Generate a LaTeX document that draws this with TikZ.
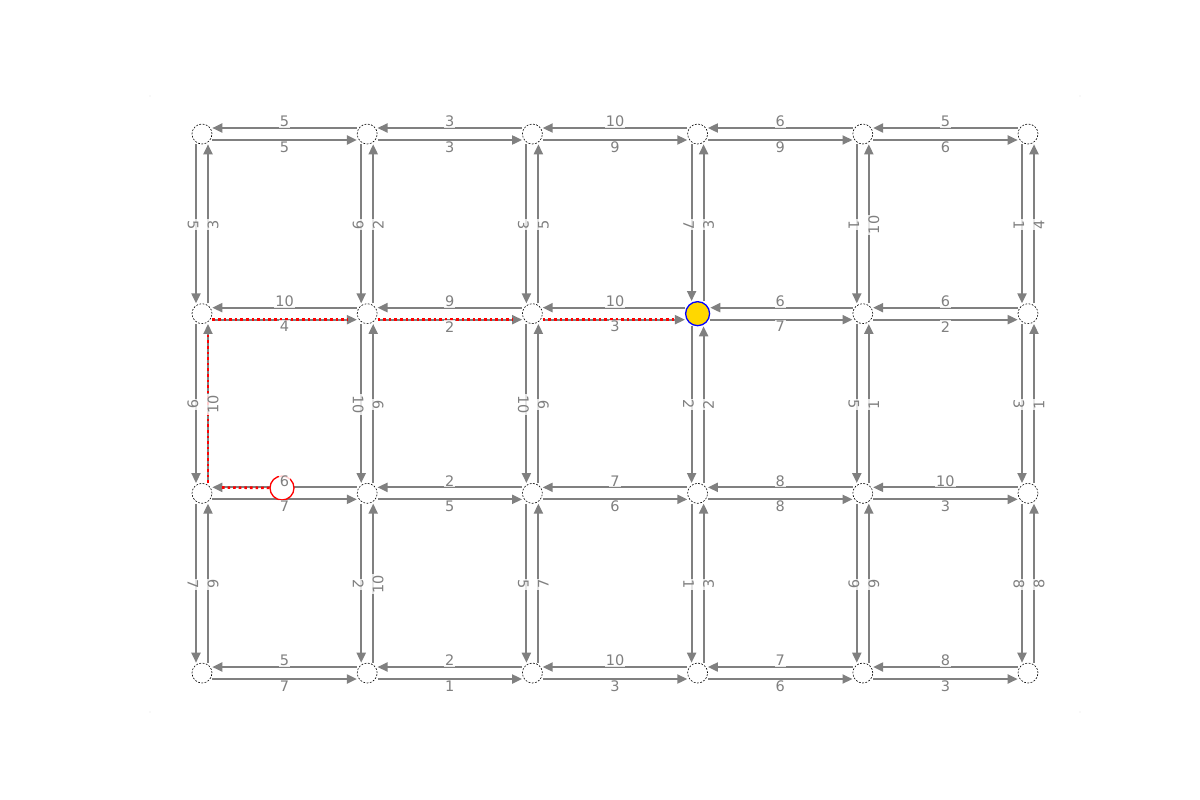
\documentclass[tikz,border=0pt]{standalone}
\usepackage{fontspec}
\newfontfamily\lblfont{DejaVu Sans}
\usetikzlibrary{arrows.meta,calc}
\definecolor{goldc}{HTML}{FFD700}
\pgfdeclarelayer{paper}
\pgfdeclarelayer{edges}
\pgfdeclarelayer{marks}
\pgfsetlayers{paper,edges,marks,main}
\begin{document}
\begin{tikzpicture}[x=1pt,y=-1pt,
 vtx/.style={circle, draw=black, line width=0.6pt, dash pattern=on 1.8pt off 1.5pt, fill=white, minimum size=20pt, inner sep=0pt},
 goal/.style={circle, draw=blue, line width=1.3pt, fill=goldc, minimum size=24pt, inner sep=0pt},
 agentc/.style={circle, draw=red, line width=1.3pt, fill=white, minimum size=24pt, inner sep=0pt},
 edgeline/.style={draw=gray, line width=2pt, -{Triangle[length=10pt,width=9pt]}},
 redpath/.style={draw=red, line width=2.6pt, dash pattern=on 2.6pt off 3pt},
 lbl/.style={font=\lblfont\fontsize{14.5}{16}\selectfont, text=gray, fill=white, fill opacity=0.8, text opacity=1, inner sep=1pt},
 corner/.style={fill=gray!20, circle, inner sep=0pt, minimum size=1.2pt}
]
\begin{pgfonlayer}{paper}
\fill[white] (0,0) rectangle (1200,800);
\end{pgfonlayer}
\useasboundingbox (0,0) rectangle (1200,800);
\node[corner] (k1) at (150,96) {};
\node[corner] (k2) at (1080,96) {};
\node[corner] (k3) at (150,712) {};
\node[corner] (k4) at (1080,712) {};
% vertices
\foreach \r in {0,...,3}{
  \foreach \c in {0,...,5}{
    \node[vtx] (n-\r-\c) at ({202+165.2*\c},{134+179.67*\r}) {};
  }
}
\node[goal] (n-1-3) at ({202+165.2*3},{134+179.67}) {};
\begin{pgfonlayer}{marks}
\node[agentc] (agent) at (282,488) {};
\end{pgfonlayer}
% horizontal edges: row/col/upper(leftward)/lower(rightward)
\foreach \r/\c/\u/\l in {0/0/5/5, 0/1/3/3, 0/2/10/9, 0/3/6/9, 0/4/5/6,
  1/0/10/4, 1/1/9/2, 1/2/10/3, 1/3/6/7, 1/4/6/2,
  2/0/6/7, 2/1/2/5, 2/2/7/6, 2/3/8/8, 2/4/10/3,
  3/0/5/7, 3/1/2/1, 3/2/10/3, 3/3/7/6, 3/4/8/3}{
  \pgfmathtruncatemacro\cc{\c+1}
  \begin{pgfonlayer}{edges}
  \draw[edgeline, transform canvas={yshift=6pt}] (n-\r-\cc) -- (n-\r-\c);
  \draw[edgeline, transform canvas={yshift=-6pt}] (n-\r-\c) -- (n-\r-\cc);
  \end{pgfonlayer}
  \path ($(n-\r-\c)!0.5!(n-\r-\cc)$) +(0,-12.5) node[lbl] {\u} +(0,13) node[lbl] {\l};
}
% vertical edges: row/col/left(downward)/right(upward)
\foreach \r/\c/\u/\l in {0/0/5/3, 0/1/9/2, 0/2/3/5, 0/3/7/3, 0/4/1/10, 0/5/1/4,
  1/0/9/10, 1/1/10/9, 1/2/10/9, 1/3/2/2, 1/4/5/1, 1/5/3/1,
  2/0/7/9, 2/1/2/10, 2/2/5/7, 2/3/1/3, 2/4/9/9, 2/5/8/8}{
  \pgfmathtruncatemacro\rr{\r+1}
  \begin{pgfonlayer}{edges}
  \draw[edgeline, transform canvas={xshift=-6pt}] (n-\r-\c) -- (n-\rr-\c);
  \draw[edgeline, transform canvas={xshift=6pt}] (n-\rr-\c) -- (n-\r-\c);
  \end{pgfonlayer}
  \path ($(n-\r-\c)!0.5!(n-\rr-\c)$) +(-9,1) node[lbl, rotate=-90] {\u} +(11,1) node[lbl, rotate=90] {\l};
}
% highlighted path
\begin{pgfonlayer}{edges}
\draw[redpath, shorten >=19pt] (agent) -- ([yshift=6pt]n-2-0.center);
\draw[redpath, transform canvas={xshift=6pt}, shorten >=9pt] (n-2-0) -- (n-1-0);
\draw[redpath, transform canvas={yshift=-6pt}, shorten >=9pt] (n-1-0) -- (n-1-1);
\draw[redpath, transform canvas={yshift=-6pt}, shorten >=9pt] (n-1-1) -- (n-1-2);
\draw[redpath, transform canvas={yshift=-6pt}, shorten >=9pt] (n-1-2) -- (n-1-3);
\end{pgfonlayer}
\end{tikzpicture}
\end{document}
